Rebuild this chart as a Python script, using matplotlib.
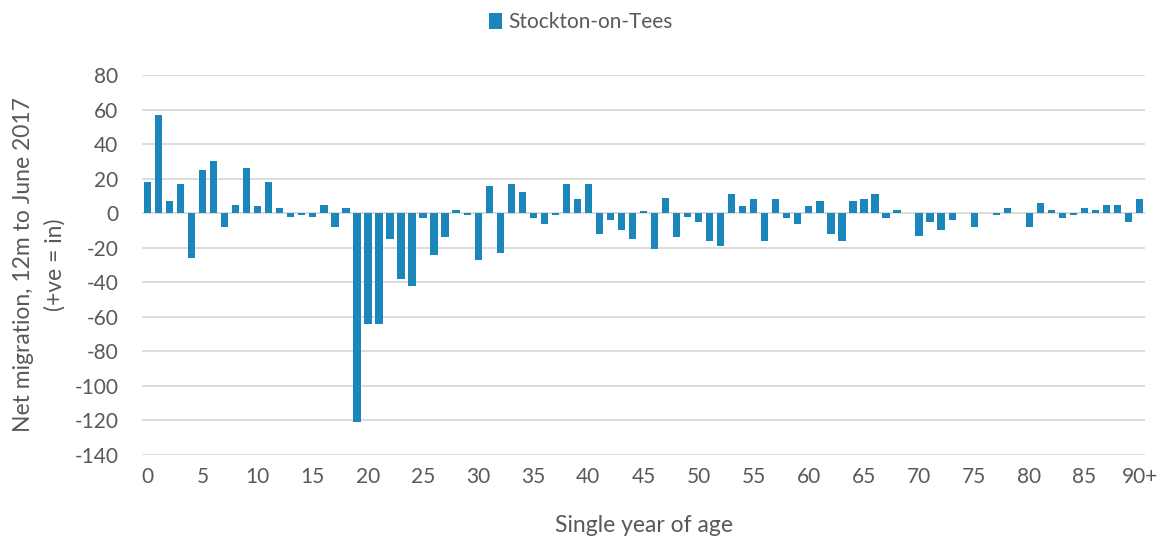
import numpy as np
import matplotlib.pyplot as plt

plt.rcParams['font.family'] = ['Lato', 'DejaVu Sans']
plt.rcParams['axes.unicode_minus'] = False

ages = list(range(91))
net_migration = [
    18, 57, 7, 17, -26, 25, 30, -8, 5, 26,
    4, 18, 3, -2, -1, -2, 5, -8, 3, -121,
    -64, -64, -15, -38, -42, -3, -24, -14, 2, -1,
    -27, 16, -23, 17, 12, -3, -6, -1, 17, 8,
    17, -12, -4, -10, -15, 1, -21, 9, -14, -2,
    -5, -16, -19, 11, 4, 8, -16, 8, -3, -6,
    4, 7, -12, -16, 7, 8, 11, -3, 2, 0,
    -13, -5, -10, -4, 0, -8, 0, -1, 3, 0,
    -8, 6, 2, -3, -1, 3, 2, 5, 5, -5,
    8,
]
tick_ages = list(range(0, 91, 5))
tick_labels = [str(a) for a in range(0, 90, 5)] + ['90+']

bar_color = '#1A86BC'
text_color = '#595959'
grid_color = '#D9D9D9'

fig = plt.figure(figsize=(11.62, 5.38), dpi=100)
ax = fig.add_axes([0.1222, 0.1543, 0.8632, 0.7063])

ax.bar(ages, net_migration, width=0.66, color=bar_color, label='Stockton-on-Tees', zorder=3)

ax.set_xlim(-0.5, 90.5)
ax.set_ylim(-140, 80)
ax.set_yticks(range(-140, 81, 20))
ax.set_xticks(tick_ages)
ax.set_xticklabels(tick_labels)

ax.grid(axis='y', color=grid_color, linewidth=1.3, zorder=0)
for s in ax.spines.values():
    s.set_visible(False)
ax.tick_params(length=0, labelsize=15, labelcolor=text_color, pad=9)
ax.tick_params(axis='y', pad=17)

ax.set_xlabel('Single year of age', fontsize=16.5, color=text_color, labelpad=20)
ax.set_ylabel('Net migration, 12m to June 2017\n(+ve = in)', fontsize=16.5,
              color=text_color, labelpad=6, linespacing=1.6)

leg = fig.legend(loc='upper center', bbox_to_anchor=(0.5, 1.012), frameon=False,
                 fontsize=15, handlelength=0.6, handleheight=0.85, handletextpad=0.3)
for t in leg.get_texts():
    t.set_color(text_color)

fig.savefig('out.png', dpi=100)
